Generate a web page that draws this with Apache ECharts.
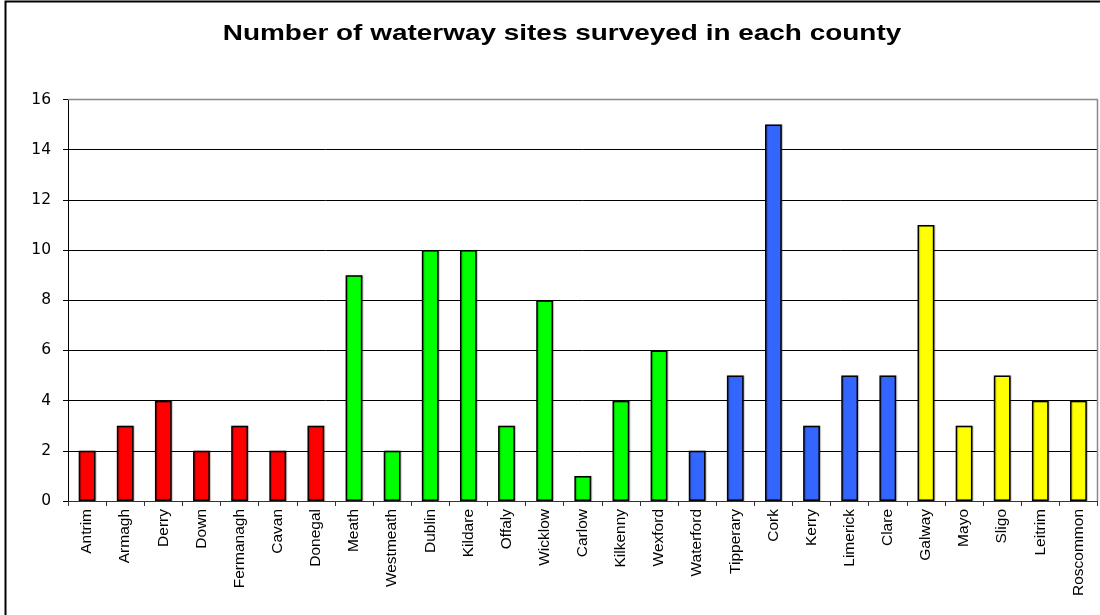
<!DOCTYPE html>
<html>
<head>
<meta charset="utf-8">
<script src="https://cdn.jsdelivr.net/npm/echarts@6/dist/echarts.min.js"></script>
<style>
html,body{margin:0;padding:0;background:#fff;}
#chart{width:1100px;height:615px;}
</style>
</head>
<body>
<div id="chart"></div>
<script>
const counties = ['Antrim','Armagh','Derry','Down','Fermanagh','Cavan','Donegal',
  'Meath','Westmeath','Dublin','Kildare','Offaly','Wicklow','Carlow','Kilkenny','Wexford',
  'Waterford','Tipperary','Cork','Kerry','Limerick','Clare',
  'Galway','Mayo','Sligo','Leitrim','Roscommon'];
const sites = [2,3,4,2,3,2,3, 9,2,10,10,3,8,1,4,6, 2,5,15,3,5,5, 11,3,5,4,4];
const provinces = ['Ulster','Ulster','Ulster','Ulster','Ulster','Ulster','Ulster',
  'Leinster','Leinster','Leinster','Leinster','Leinster','Leinster','Leinster','Leinster','Leinster',
  'Munster','Munster','Munster','Munster','Munster','Munster',
  'Connacht','Connacht','Connacht','Connacht','Connacht'];
const provinceColors = {Ulster:'#FF0000', Leinster:'#00FF00', Munster:'#3366FF', Connacht:'#FFFF00'};
const yTicks = [0,2,4,6,8,10,12,14,16];
const titleText = 'Number of waterway sites surveyed in each county';

const chart = echarts.init(document.getElementById('chart'), null, {renderer:'canvas'});
chart.setOption({
  backgroundColor:'#ffffff',
  animation:false,
  graphic:[{
    type:'rect', silent:true, z:-1,
    shape:{x:5.5, y:1.5, width:1200, height:700},
    style:{fill:'none', stroke:'#000', lineWidth:2}
  },{
    type:'text', silent:true, x:562, y:34, scaleX:1.27,
    style:{text:titleText, textAlign:'center', textVerticalAlign:'middle',
      font:'bold 22px "Liberation Sans", Arial', fill:'#000'}
  },{
    type:'line', silent:true, z:1,
    shape:{x1:68, y1:99.5, x2:1097.5, y2:99.5},
    style:{stroke:'#888', lineWidth:1.5}
  },{
    type:'line', silent:true, z:1,
    shape:{x1:1097.5, y1:99.5, x2:1097.5, y2:501},
    style:{stroke:'#888', lineWidth:1.5}
  }],
  grid:{left:68, right:2.5, top:99.5, bottom:114, containLabel:false},
  xAxis:{
    type:'category',
    data:counties,
    boundaryGap:true,
    axisLine:{lineStyle:{color:'#333', width:1}},
    axisTick:{show:true, length:5, alignWithLabel:false, lineStyle:{color:'#333'}},
    axisLabel:{rotate:90, interval:0, fontFamily:'Liberation Sans, Arial', fontSize:15.5, color:'#000', margin:8}
  },
  yAxis:{
    type:'value', min:yTicks[0], max:yTicks[yTicks.length-1], interval:2,
    axisLine:{show:true, lineStyle:{color:'#000', width:1}},
    axisTick:{show:true, length:5, lineStyle:{color:'#000'}},
    axisLabel:{fontFamily:'DejaVu Sans', fontSize:15.5, color:'#000', margin:17},
    splitLine:{show:true, lineStyle:{color:'#000', width:1}}
  },
  series:[{
    type:'bar',
    barWidth:'44%',
    data:sites.map((v,i)=>({value:v, itemStyle:{color:provinceColors[provinces[i]]}})),
    itemStyle:{borderColor:'#000', borderWidth:1.5,
      shadowColor:'rgba(0,0,0,0.25)', shadowBlur:1, shadowOffsetX:1, shadowOffsetY:0}
  }]
});
</script>
</body>
</html>
